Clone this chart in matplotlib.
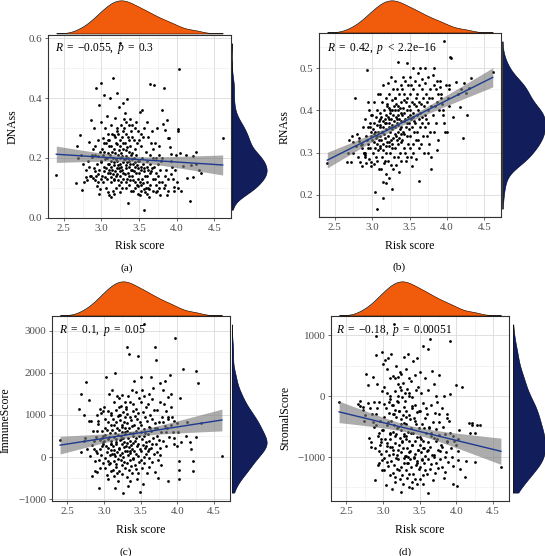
import numpy as np
import matplotlib
matplotlib.use("Agg")
import matplotlib.pyplot as plt
from matplotlib.ticker import MultipleLocator

plt.rcParams['font.family'] = 'Liberation Serif'
plt.rcParams['mathtext.fontset'] = 'custom'
plt.rcParams['mathtext.rm'] = 'Liberation Serif'
plt.rcParams['mathtext.it'] = 'Liberation Serif:italic'

# risk score of every sample (shared by all four panels), grouped in 0.1 slices
risk_score = [
    2.40,
    2.68, 2.66, 2.69,
    2.75, 2.72, 2.79, 2.73, 2.77, 2.74,
    2.86, 2.81, 2.89, 2.83, 2.87, 2.80, 2.85, 2.88, 2.82, 2.89, 2.84, 2.86,
    2.93, 2.97, 2.90, 2.95, 2.91, 2.98, 2.92, 2.96, 2.99, 2.94, 2.90, 2.97, 2.91, 2.95, 2.93, 2.99, 2.92, 2.96, 2.94, 2.98, 2.97, 2.99,
    3.03, 3.07, 3.00, 3.05, 3.09, 3.02, 3.06, 3.10, 3.01, 3.04, 3.08, 3.02, 3.07, 3.05, 3.00,
    3.09, 3.03, 3.06, 3.10, 3.04, 3.08, 3.01, 3.05, 3.07, 3.02, 3.09, 3.04, 3.06, 3.08, 3.10,
    3.15, 3.11, 3.18, 3.13, 3.20, 3.16, 3.10, 3.19, 3.12, 3.17, 3.14, 3.18, 3.11, 3.15, 3.19, 3.13, 3.16, 3.10,
    3.17, 3.12, 3.20, 3.14, 3.18, 3.11, 3.15, 3.19, 3.13, 3.17, 3.16, 3.12, 3.18, 3.14, 3.19, 3.15, 3.17, 3.13,
    3.25, 3.21, 3.28, 3.23, 3.30, 3.26, 3.20, 3.29, 3.22, 3.27, 3.24, 3.28, 3.21, 3.25, 3.29, 3.23, 3.26, 3.22, 3.27,
    3.24, 3.30, 3.21, 3.28, 3.25, 3.22, 3.26, 3.23, 3.27, 3.24, 3.29, 3.21, 3.25, 3.28, 3.22, 3.26, 3.23, 3.27, 3.24,
    3.34, 3.31, 3.38, 3.33, 3.36, 3.30, 3.39, 3.32, 3.35, 3.37, 3.31, 3.38, 3.34, 3.32, 3.36, 3.39, 3.33, 3.35,
    3.31, 3.37, 3.34, 3.38, 3.32, 3.36, 3.33, 3.39, 3.35, 3.31, 3.37, 3.34, 3.38, 3.32, 3.36, 3.33, 3.39, 3.35,
    3.46, 3.41, 3.44, 3.48, 3.40, 3.43, 3.47, 3.42, 3.45, 3.49, 3.41, 3.46, 3.43, 3.40, 3.48,
    3.44, 3.42, 3.47, 3.45, 3.49, 3.41, 3.43, 3.46, 3.40, 3.48, 3.42, 3.44, 3.47, 3.45, 3.49,
    3.54, 3.51, 3.57, 3.52, 3.55, 3.50, 3.58, 3.53, 3.56, 3.59, 3.51, 3.54, 3.50, 3.55,
    3.52, 3.57, 3.53, 3.56, 3.50, 3.58, 3.54, 3.51, 3.55, 3.52, 3.59, 3.53, 3.56,
    3.64, 3.61, 3.67, 3.62, 3.66, 3.60, 3.68, 3.63, 3.65, 3.69, 3.61, 3.64,
    3.60, 3.67, 3.62, 3.66, 3.64, 3.60, 3.68, 3.61, 3.65, 3.62, 3.69, 3.63,
    3.70, 3.74, 3.71, 3.77, 3.72, 3.76, 3.73, 3.79, 3.75, 3.70, 3.78, 3.72, 3.75, 3.71, 3.77, 3.73, 3.76, 3.74, 3.78,
    3.83, 3.81, 3.87, 3.82, 3.85, 3.88, 3.80, 3.86, 3.84, 3.89, 3.81, 3.85, 3.83, 3.88, 3.87,
    3.92, 3.96, 3.90, 3.94, 3.97, 3.91, 3.95, 3.99, 3.93, 3.96, 3.92,
    4.02, 4.08, 4.00, 4.04, 4.03, 4.01, 4.05, 4.02,
    4.14, 4.19, 4.17, 4.12,
    4.26, 4.22, 4.21, 4.25,
    4.29, 4.32,
    4.61,
]

dnass = [
    0.144,
    0.24, 0.116, 0.20,
    0.181, 0.276, 0.135, 0.21, 0.12, 0.094,
    0.139, 0.125, 0.133, 0.254, 0.203, 0.16, 0.14, 0.21, 0.19, 0.23, 0.17, 0.328,
    0.435, 0.377, 0.30, 0.26, 0.24, 0.22, 0.21, 0.205, 0.19, 0.18, 0.165, 0.16, 0.155, 0.145, 0.14,
    0.13, 0.125, 0.12, 0.105, 0.095, 0.08, 0.451,
    0.41, 0.34, 0.32, 0.30, 0.28, 0.265, 0.25, 0.24, 0.23, 0.22, 0.215, 0.21, 0.2, 0.195, 0.185,
    0.18, 0.17, 0.165, 0.16, 0.155, 0.15, 0.14, 0.135, 0.13, 0.12, 0.26, 0.25, 0.10, 0.085, 0.075,
    0.466, 0.401, 0.335, 0.31, 0.29, 0.275, 0.26, 0.25, 0.24, 0.23, 0.22, 0.215, 0.21, 0.2, 0.195, 0.19, 0.185, 0.18,
    0.175, 0.17, 0.165, 0.16, 0.155, 0.15, 0.145, 0.14, 0.135, 0.13, 0.125, 0.12, 0.27, 0.28, 0.1, 0.09, 0.08, 0.07,
    0.583, 0.416, 0.382, 0.369, 0.33, 0.31, 0.3, 0.29, 0.28, 0.27, 0.26, 0.25, 0.245, 0.24, 0.23, 0.225, 0.215, 0.21, 0.205,
    0.2, 0.195, 0.19, 0.185, 0.18, 0.175, 0.17, 0.165, 0.16, 0.155, 0.15, 0.145, 0.14, 0.13, 0.125, 0.12, 0.11, 0.1, 0.085,
    0.396, 0.35, 0.33, 0.32, 0.31, 0.3, 0.29, 0.28, 0.27, 0.26, 0.25, 0.24, 0.235, 0.225, 0.22, 0.21, 0.205, 0.2,
    0.195, 0.19, 0.185, 0.18, 0.175, 0.17, 0.165, 0.16, 0.15, 0.145, 0.14, 0.13, 0.125, 0.12, 0.11, 0.1, 0.09, 0.049,
    0.32, 0.31, 0.3, 0.29, 0.27, 0.26, 0.25, 0.09, 0.23, 0.105, 0.215, 0.21, 0.2, 0.195, 0.19,
    0.185, 0.18, 0.175, 0.17, 0.165, 0.16, 0.155, 0.15, 0.14, 0.13, 0.125, 0.12, 0.11, 0.1, 0.08,
    0.36, 0.354, 0.30, 0.28, 0.27, 0.26, 0.085, 0.24, 0.095, 0.22, 0.075, 0.2, 0.19, 0.18,
    0.17, 0.165, 0.16, 0.155, 0.15, 0.14, 0.13, 0.12, 0.115, 0.11, 0.1, 0.09, 0.027,
    0.447, 0.32, 0.29, 0.27, 0.25, 0.08, 0.23, 0.095, 0.21, 0.2, 0.19, 0.18,
    0.17, 0.165, 0.16, 0.155, 0.15, 0.14, 0.13, 0.12, 0.11, 0.1, 0.09, 0.07,
    0.444, 0.3, 0.25, 0.24, 0.085, 0.21, 0.2, 0.19, 0.18, 0.17, 0.16, 0.15, 0.14, 0.13, 0.12, 0.11, 0.1, 0.09, 0.077,
    0.432, 0.36, 0.328, 0.312, 0.293, 0.268, 0.2, 0.16, 0.14, 0.13, 0.12, 0.11, 0.1, 0.09, 0.077,
    0.212, 0.103, 0.265, 0.17, 0.16, 0.237, 0.13, 0.21, 0.19, 0.089, 0.147,
    0.295, 0.173, 0.12, 0.217, 0.496, 0.1, 0.09, 0.29,
    0.133, 0.178, 0.056, 0.21,
    0.22, 0.206, 0.136, 0.18,
    0.159, 0.15,
    0.268,
]

rnass = [
    0.276,
    0.30, 0.277, 0.33,
    0.30, 0.277, 0.315, 0.34, 0.43, 0.325,
    0.31, 0.29, 0.30, 0.335, 0.32, 0.345, 0.318, 0.36, 0.327, 0.30, 0.277, 0.269,
    0.33, 0.36, 0.29, 0.31, 0.38, 0.34, 0.275, 0.40, 0.35, 0.32, 0.295, 0.37, 0.30, 0.42, 0.496,
    0.277, 0.34, 0.285, 0.36, 0.269, 0.31, 0.39,
    0.42, 0.40, 0.39, 0.385, 0.375, 0.37, 0.365, 0.36, 0.355, 0.35, 0.35, 0.345, 0.34, 0.335, 0.33,
    0.33, 0.325, 0.32, 0.315, 0.31, 0.305, 0.30, 0.29, 0.28, 0.273, 0.26, 0.207, 0.167, 0.44, 0.38,
    0.46, 0.44, 0.43, 0.42, 0.41, 0.40, 0.395, 0.39, 0.385, 0.38, 0.375, 0.37, 0.365, 0.36, 0.355, 0.35, 0.345, 0.34,
    0.335, 0.33, 0.325, 0.32, 0.315, 0.31, 0.305, 0.30, 0.29, 0.28, 0.276, 0.26, 0.25, 0.231, 0.229, 0.192, 0.37, 0.35,
    0.48, 0.465, 0.45, 0.44, 0.43, 0.425, 0.415, 0.41, 0.405, 0.40, 0.395, 0.39, 0.385, 0.38, 0.375, 0.37, 0.365, 0.36, 0.355,
    0.35, 0.345, 0.34, 0.335, 0.33, 0.325, 0.32, 0.315, 0.31, 0.30, 0.29, 0.28, 0.27, 0.26, 0.24, 0.213, 0.38, 0.36, 0.40,
    0.514, 0.47, 0.46, 0.45, 0.44, 0.43, 0.42, 0.415, 0.41, 0.405, 0.40, 0.395, 0.39, 0.385, 0.38, 0.375, 0.37, 0.365,
    0.36, 0.355, 0.35, 0.345, 0.34, 0.335, 0.33, 0.325, 0.32, 0.31, 0.30, 0.29, 0.28, 0.27, 0.253, 0.38, 0.36, 0.40,
    0.512, 0.48, 0.47, 0.46, 0.45, 0.44, 0.43, 0.425, 0.42, 0.41, 0.405, 0.40, 0.395, 0.39, 0.385,
    0.38, 0.375, 0.37, 0.36, 0.355, 0.35, 0.345, 0.34, 0.33, 0.32, 0.31, 0.30, 0.289, 0.28, 0.37,
    0.50, 0.48, 0.47, 0.46, 0.45, 0.44, 0.43, 0.42, 0.415, 0.41, 0.40, 0.395, 0.39, 0.385,
    0.38, 0.37, 0.36, 0.35, 0.34, 0.33, 0.32, 0.31, 0.30, 0.289, 0.285, 0.269, 0.375,
    0.50, 0.49, 0.475, 0.46, 0.45, 0.44, 0.43, 0.42, 0.415, 0.41, 0.40, 0.395,
    0.39, 0.385, 0.38, 0.37, 0.36, 0.35, 0.34, 0.33, 0.32, 0.31, 0.30, 0.233,
    0.50, 0.48, 0.465, 0.45, 0.44, 0.43, 0.42, 0.41, 0.40, 0.39, 0.261, 0.38, 0.37, 0.36, 0.35, 0.34, 0.32, 0.30, 0.29,
    0.50, 0.485, 0.47, 0.46, 0.45, 0.44, 0.43, 0.42, 0.41, 0.40, 0.39, 0.37, 0.35, 0.33, 0.305,
    0.44, 0.564, 0.47, 0.40, 0.35, 0.455, 0.39, 0.46, 0.415, 0.37, 0.43,
    0.45, 0.385, 0.349, 0.528, 0.41, 0.43, 0.524, 0.46,
    0.44, 0.45, 0.408, 0.468,
    0.389, 0.464, 0.335, 0.442,
    0.454, 0.476,
    0.492,
]

immune_score = [
    414,
    1502, 1143, 120,
    1781, 1008, 865, 380, 190, 450,
    200, 20, 470, 280, -100, 1343, 620, -331, 850, 150, -450, 380,
    -729, 620, 100, 1150, -350, 300, 850, 40, 500, -250, 1000, 250, 620, 400, -60,
    350, 780, 1050, 180, -143, 460, 1100,
    1908, 1500, 1200, 1100, 1000, 900, 820, 750, 700, 640, 580, 520, 470, 420, 370,
    320, 270, 220, 170, 110, 50, -20, -90, -170, -250, -330, -420, -520, -140, 300,
    2004, 1600, 1450, 1300, 1200, 1120, 1050, 980, 900, 830, 760, 700, 640, 580, 520, 470, 420, 370,
    320, 270, 220, 170, 120, 70, 20, -40, -100, -160, -230, -300, -380, -460, -560, -745, 350, 60,
    1470, 1400, 1300, 1220, 1150, 1080, 1000, 940, 880, 820, 760, 700, 650, 600, 550, 500, 450, 400, 350,
    300, 250, 200, 150, 100, 50, 0, -60, -120, -190, -260, -330, -410, 600, 1000, -845, 420, 230, 720,
    2458, 2602, 1600, 1450, 1300, 1200, 1100, 1020, 950, 880, 810, 740, 680, 620, 560, 500, 440, 390,
    340, 290, 240, 190, 140, 90, 40, -20, -80, -150, -220, -300, -380, -470, -570, -700, 330, 150,
    2402, 1800, 1550, 1400, 1250, 1150, 1050, 970, 900, 830, 760, 690, 620, 560, 500,
    440, 380, 320, 260, 200, 140, 80, 20, -40, -110, -190, -280, -380, -520, -821,
    3150, 1900, 250, 1600, 1450, 1300, 1180, 1060, 950, 850, 760, 670, 590, 510,
    430, 360, 290, 220, 150, 80, 10, -70, -150, -250, -370, -638, 560,
    1900, 180, 1650, 1500, 1380, 1250, 1120, 1000, 900, 800, 710, 620,
    540, 460, 380, 300, 220, 140, 60, -20, -120, -230, -350, 680,
    2602, -487, 2299, 1750, 700, 1300, 1120, 960, 820, 700, 590, 490, 400, 310, 220, 130, 40, -60, -200,
    1800, 1600, 1420, 1250, 1100, 950, 820, 700, 590, 480, 370, 260, 740, -558, 900,
    1200, 300, 1950, 600, 2817, 1500, 450, 250, 950, 850, 760,
    -88, 2100, 800, 1410, -526, 600, 350, -303,
    830, 200, 350, 500,
    480, -343, -104, 2044,
    1765, 800,
    32,
]

stromal_score = [
    -100,
    -82, -126, -160,
    -313, -180, -120, -230, 357, -400,
    313, -690, -850, -750, -100, 180, -300, -500, -200, -1374, -840, -420,
    -1137, -700, 989, -900, -480, -1050, -200, -800, -1209, -600, 670, -950, -300, -1100, -650,
    80, 200, -400, -100, -550, -750, 731,
    588, 632, 533, 440, 300, 150, 50, -50, -130, -200, -280, -350, -420, -480, -550,
    -620, -700, -770, -840, -900, -960, -1020, -1080, -1150, -1220, -1300, -1467, -820, -100, -600,
    1180, 700, 500, 330, 200, 90, 0, -80, -150, -220, -290, -350, -410, -470, -530, -590, -650, -710,
    -770, -830, -890, -950, -1010, -1070, -1130, -1190, -1260, -1330, -1410, -1522, -620, -880, -960, -300, 300, -150,
    357, 319, 650, 150, 60, -20, -100, -170, -240, -310, -380, -440, -500, -560, -620, -680, -740, -800, -860,
    -920, -980, -1040, -1100, -1160, -1220, -1290, -1360, -1440, -1577, -650, 0, 100, -1010, -250, -760, 400, 220, -450,
    698, 450, 250, 120, 0, -80, -160, -240, -310, -380, -450, -520, -590, -660, -730, -800, -860, -920,
    -980, -1040, -1100, -1160, -1220, -1280, -1340, -1410, -1490, -700, -900, -1000, -600, -350, 50, -1100, -200, 300,
    632, 577, 350, 150, -20, -150, -260, -360, -450, -530, -600, -670, -740, -810, -880,
    -950, -1010, -1070, -1130, -1200, -1280, -1360, -1440, -1511, -880, -1000, -400, -1100, 100, -250,
    824, 396, 302, 50, -120, -250, -360, -450, -530, -600, -670, -740, -800, -860,
    -920, -980, -1040, -1100, -1160, -1220, -1290, -1360, -1440, -700, -200, -1050, -850,
    934, 769, 412, 100, -150, -300, -420, -520, -610, -690, -760, -830,
    -900, -970, -1040, -1110, -1190, -1280, -1380, -1585, -650, -880, -1000, -500,
    200, -100, -280, -420, -540, -640, -730, -810, -890, -960, -1030, -1100, -1180, -1260, -300, 0, 350, -700, -900,
    0, -200, -360, -500, -620, -730, -830, -920, -1000, -1080, -1160, -1250, -1350, -300, -760,
    907, -659, -400, -1000, -731, -600, -1445, -800, -850, -1150, 44,
    -900, 150, 181, -550, -1050, -1484, -1200, -700,
    -1071, -604, -440, -1335,
    -600, -467, -440, -1080,
    -470, -480,
    -1170,
]

y_names = ["DNAss", "RNAss", "ImmuneScore", "StromalScore"]
stat_text = [r"$R\ =\ {-}0.055,\ p\ =\ 0.3$", r"$R\ =\ 0.42,\ p\ <\ 2.2\mathrm{e}{-}16$",
             r"$R\ =\ 0.1,\ p\ =\ 0.05$", r"$R\ =\ {-}0.18,\ p\ =\ 0.00051$"]
tags = ["(a)", "(b)", "(c)", "(d)"]
y_major = [0.2, 0.1, 1000, 1000]

ORANGE = "#F05B0C"
NAVY = "#121E5C"
W, H = 545, 556


def box(l, t, r, b):
    return [l / W, 1 - b / H, (r - l) / W, (b - t) / H]


def kde(v):
    v = np.asarray(v, float)
    iqr = np.subtract(*np.percentile(v, [75, 25]))
    bw = 0.9 * min(v.std(ddof=1), iqr / 1.34) * len(v) ** -0.2
    g = np.linspace(v.min(), v.max(), 512)
    d = np.exp(-0.5 * ((g[:, None] - v[None, :]) / bw) ** 2).sum(1) / (len(v) * bw * np.sqrt(2 * np.pi))
    return g, d


def expand(v):
    lo, hi = min(v), max(v)
    return lo - 0.05 * (hi - lo), hi + 0.05 * (hi - lo)


main_px = [(48, 35, 231, 218), (319, 33, 501, 217), (52, 316, 230, 501), (331, 316, 509, 501)]
top_px = [(48, 0, 231, 33.5), (319, 0, 501, 32.5), (52, 281, 230, 315.5), (331, 281, 509, 315.5)]
right_px = [(231.5, 35, 267, 218), (502, 33, 545.5, 217), (231.5, 316, 267, 501), (512.5, 316, 545.5, 501)]
xlab_y = [246, 246, 530, 530]
tag_xy = [(127, 268), (399, 267), (126, 552), (405, 552)]
ylab_xy = [(13, 127), (285, 127), (6, 420), (285, 418)]
stat_xy = [(55, 49), (327, 49), (59, 331), (336, 331)]

fig = plt.figure(figsize=(W / 100, H / 100), dpi=100)
x = np.asarray(risk_score, float)

for i, yv in enumerate([dnass, rnass, immune_score, stromal_score]):
    y = np.asarray(yv, float)
    ax = fig.add_axes(box(*main_px[i]))
    ax.set_xlim(*expand(x))
    ax.set_ylim(*expand(y))
    ax.xaxis.set_major_locator(MultipleLocator(0.5))
    ax.xaxis.set_minor_locator(MultipleLocator(0.25))
    ax.yaxis.set_major_locator(MultipleLocator(y_major[i]))
    ax.yaxis.set_minor_locator(MultipleLocator(y_major[i] / 2))
    ax.set_axisbelow(True)
    ax.grid(which='major', color='#DADADA', lw=0.6)
    ax.grid(which='minor', color='#EBEBEB', lw=0.4)
    ax.tick_params(which='major', length=2.5, width=0.5, color='#333333', labelsize=7.9,
                   labelcolor='#4D4D4D', pad=1.5)
    ax.tick_params(which='minor', length=0)
    for s in ax.spines.values():
        s.set_linewidth(0.8)
        s.set_color('#333333')

    ax.scatter(x, y, s=4, c='black', linewidths=0, zorder=2)

    # linear fit with 95% confidence band
    b1, b0 = np.polyfit(x, y, 1)
    xs = np.linspace(x.min(), x.max(), 100)
    res = y - (b0 + b1 * x)
    sig = np.sqrt((res ** 2).sum() / (len(x) - 2))
    se = sig * np.sqrt(1 / len(x) + (xs - x.mean()) ** 2 / ((x - x.mean()) ** 2).sum())
    fit = b0 + b1 * xs
    ax.fill_between(xs, fit - 1.967 * se, fit + 1.967 * se, color='#7A7A7A', alpha=0.62, lw=0, zorder=3)
    ax.plot(xs, fit, color='#1E3A8F', lw=1.0, zorder=4)

    # marginal densities
    axt = fig.add_axes(box(*top_px[i]))
    g, d = kde(x)
    axt.fill_between(g, 0, d, facecolor=ORANGE, edgecolor='black', lw=0.4)
    axt.set_xlim(ax.get_xlim())
    axt.set_ylim(0, d.max() * 1.01)
    axt.axis('off')

    axr = fig.add_axes(box(*right_px[i]))
    g, d = kde(y)
    axr.fill_betweenx(g, 0, d, facecolor=NAVY, edgecolor='black', lw=0.4)
    axr.set_ylim(ax.get_ylim())
    axr.set_xlim(0, d.max() * 1.01)
    axr.axis('off')

    cx = (main_px[i][0] + main_px[i][2]) / 2
    fig.text(cx / W, 1 - xlab_y[i] / H, "Risk score", ha='center', va='center', fontsize=8.5)
    fig.text(ylab_xy[i][0] / W, 1 - ylab_xy[i][1] / H, y_names[i], ha='center', va='center',
             rotation=90, fontsize=8.5)
    fig.text(tag_xy[i][0] / W, 1 - tag_xy[i][1] / H, tags[i], ha='center', va='center', fontsize=8.2)
    fig.text(stat_xy[i][0] / W, 1 - stat_xy[i][1] / H, stat_text[i], ha='left', va='center', fontsize=8.3)

fig.savefig("out.png", dpi=100)
